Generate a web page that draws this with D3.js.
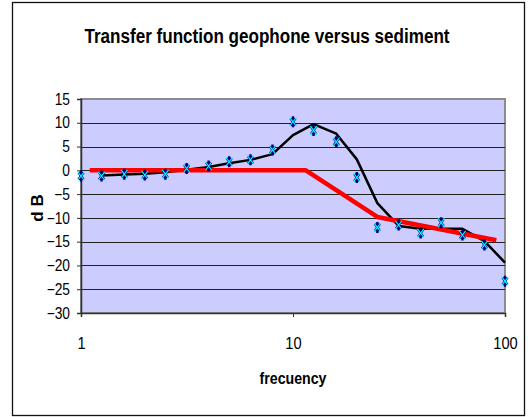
<!DOCTYPE html>
<html>
<head>
<meta charset="utf-8">
<script src="https://cdn.jsdelivr.net/npm/d3@7"></script>
<style>
  body { margin: 0; background: #fff; }
  text { font-family: "Liberation Sans", Arial, sans-serif; }
</style>
</head>
<body>
<div id="chart"></div>
<script>
// measured points (third-octave frequencies)
var freqs = [1, 1.25, 1.6, 2, 2.5, 3.15, 4, 5, 6.3, 8, 10, 12.5, 16, 20, 25, 31.5, 40, 50, 63, 80, 100];
var measured = [-1.2, -1.2, -0.8, -1.0, -0.8, 0.4, 0.9, 1.8, 2.2, 4.3, 10.2, 8.4, 6.0, -1.5, -12.0, -11.5, -13.2, -11.0, -13.6, -15.7, -23.3];

// smoothed black curve
var fitFreqs = [1.25, 1.6, 2, 2.5, 3.15, 4, 5, 6.3, 8, 10, 12.5, 16, 20, 25, 31.5, 40, 50, 63, 80, 100];
var fitted = [-1.1, -0.9, -0.7, -0.4, 0.1, 0.7, 1.5, 2.2, 3.4, 7.4, 9.7, 7.7, 2.3, -6.9, -11.7, -12.3, -12.3, -12.3, -14.9, -19.4];

// red model line
var modelFreqs = [1.1, 11.5, 25, 91];
var model = [0, 0, -9.8, -14.7];

var yTicks = [15, 10, 5, 0, -5, -10, -15, -20, -25, -30];
var xTicks = [1, 10, 100];

function draw() {
    var W = 528, H = 417;
    var pLeft = 81, pRight = 505, pTop = 99, pBottom = 313;

    var svg = d3.select("#chart").append("svg").attr("width", W).attr("height", H);

    // shrink text horizontally (chart uses a narrow face)
    function condense(sel, k) {
        sel.each(function () {
            var w = this.getComputedTextLength();
            d3.select(this).attr("textLength", w * k).attr("lengthAdjust", "spacingAndGlyphs");
        });
    }

    // outer frame
    svg.append("rect")
        .attr("x", 12.5).attr("y", 2.5)
        .attr("width", 512).attr("height", 413)
        .attr("fill", "#fff").attr("stroke", "#111").attr("stroke-width", 1.3);

    var x = d3.scaleLog().domain([1, 100]).range([pLeft, pRight]);
    var y = d3.scaleLinear().domain([-30, 15]).range([pBottom, pTop]);

    // plot area
    svg.append("rect")
        .attr("x", pLeft).attr("y", pTop)
        .attr("width", pRight - pLeft).attr("height", pBottom - pTop)
        .attr("fill", "#CCCCFF").attr("stroke", "#8c8c8c").attr("stroke-width", 2);

    // gridlines
    svg.append("g").selectAll("line")
        .data(yTicks.filter(function (d) { return d > -30 && d < 15; }))
        .enter().append("line")
        .attr("x1", pLeft).attr("x2", pRight)
        .attr("y1", function (d) { return Math.round(y(d)) + 0.5; })
        .attr("y2", function (d) { return Math.round(y(d)) + 0.5; })
        .attr("stroke", "#222").attr("stroke-width", 1);

    // axes
    var yAxis = d3.axisLeft(y).tickValues(yTicks).tickSize(4).tickPadding(7);
    var gy = svg.append("g").attr("transform", "translate(" + pLeft + ",0)").call(yAxis);
    gy.select(".domain").attr("stroke", "#333").attr("stroke-width", 1.5);
    gy.selectAll(".tick line").attr("stroke", "#333");
    gy.selectAll("text").style("font-size", "16px").attr("fill", "#000")
        .style("font-family", "'Liberation Sans', Arial, sans-serif");
    condense(gy.selectAll("text"), 0.86);

    var xAxis = d3.axisBottom(x).tickValues(xTicks).tickFormat(d3.format("d")).tickSize(4).tickPadding(20);
    var gx = svg.append("g").attr("transform", "translate(0," + pBottom + ")").call(xAxis);
    gx.select(".domain").attr("stroke", "#333").attr("stroke-width", 1.5);
    gx.selectAll(".tick line").attr("stroke", "#333");
    gx.selectAll("text").style("font-size", "17px").attr("fill", "#000")
        .style("font-family", "'Liberation Sans', Arial, sans-serif");
    condense(gx.selectAll("text"), 0.86);

    // black curve
    var line = d3.line()
        .x(function (d) { return x(d[0]); })
        .y(function (d) { return y(d[1]); });

    svg.append("path")
        .datum(d3.zip(fitFreqs, fitted))
        .attr("d", line)
        .attr("fill", "none").attr("stroke", "#000").attr("stroke-width", 2.5)
        .attr("stroke-linejoin", "round");

    // red model
    svg.append("path")
        .datum(d3.zip(modelFreqs, model))
        .attr("d", line)
        .attr("fill", "none").attr("stroke", "#FF0000").attr("stroke-width", 4.5)
        .attr("stroke-linejoin", "round");

    // star markers
    var pts = svg.append("g").selectAll("g")
        .data(d3.zip(freqs, measured))
        .enter().append("g")
        .attr("transform", function (d) { return "translate(" + x(d[0]) + "," + y(d[1]) + ")"; });
    pts.append("path")
        .attr("d", "M0,-5.5V5.5M-2.5,-3.5L2.5,3.5M2.5,-3.5L-2.5,3.5")
        .attr("stroke", "#000080").attr("stroke-width", 2.4).attr("fill", "none");
    pts.append("path")
        .attr("d", "M-3.2,-4.2L3.2,4.2M3.2,-4.2L-3.2,4.2")
        .attr("stroke", "#00FFFF").attr("stroke-width", 1.1).attr("fill", "none");

    // title and axis labels
    svg.append("text")
        .attr("x", 267).attr("y", 43)
        .attr("text-anchor", "middle")
        .style("font-size", "20px").style("font-weight", "bold")
        .attr("textLength", 365).attr("lengthAdjust", "spacingAndGlyphs")
        .text("Transfer function geophone versus sediment");

    svg.append("text")
        .attr("x", 293).attr("y", 384)
        .attr("text-anchor", "middle")
        .style("font-size", "16px").style("font-weight", "bold")
        .attr("textLength", 67).attr("lengthAdjust", "spacingAndGlyphs")
        .text("frecuency");

    svg.append("text")
        .attr("transform", "translate(43,208)rotate(-90)")
        .attr("text-anchor", "middle")
        .style("font-size", "17px").style("font-weight", "bold")
        .text("d B");
}

draw();
</script>
</body>
</html>
